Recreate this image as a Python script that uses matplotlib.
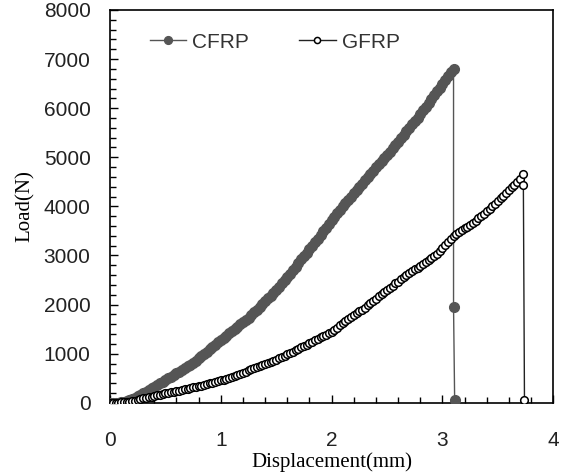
import matplotlib
matplotlib.use("Agg")
import matplotlib.pyplot as plt
from matplotlib.ticker import MultipleLocator

# CFRP load-displacement
cfrp_x = [0.000, 0.025, 0.050, 0.075, 0.100, 0.125, 0.150, 0.175, 0.200, 0.225,
          0.250, 0.275, 0.300, 0.325, 0.350, 0.375, 0.400, 0.425, 0.450, 0.475,
          0.500, 0.525, 0.550, 0.575, 0.600, 0.625, 0.650, 0.675, 0.700, 0.725,
          0.750, 0.775, 0.800, 0.825, 0.850, 0.875, 0.900, 0.925, 0.950, 0.975,
          1.000, 1.025, 1.050, 1.075, 1.100, 1.125, 1.150, 1.175, 1.200, 1.225,
          1.250, 1.275, 1.300, 1.325, 1.350, 1.375, 1.400, 1.425, 1.450, 1.475,
          1.500, 1.525, 1.550, 1.575, 1.600, 1.625, 1.650, 1.675, 1.700, 1.725,
          1.750, 1.775, 1.800, 1.825, 1.850, 1.875, 1.900, 1.925, 1.950, 1.975,
          2.000, 2.025, 2.050, 2.075, 2.100, 2.125, 2.150, 2.175, 2.200, 2.225,
          2.250, 2.275, 2.300, 2.325, 2.350, 2.375, 2.400, 2.425, 2.450, 2.475,
          2.500, 2.525, 2.550, 2.575, 2.600, 2.625, 2.650, 2.675, 2.700, 2.725,
          2.750, 2.775, 2.800, 2.825, 2.850, 2.875, 2.900, 2.925, 2.950, 2.975,
          3.000, 3.025, 3.050, 3.075, 3.100, 3.100, 3.110]
cfrp_y = [0, 0, 0, 5, 10, 20, 30, 50, 70, 100,
          130, 165, 200, 230, 265, 300, 330, 360, 395, 430,
          460, 495, 530, 565, 600, 635, 670, 705, 740, 775,
          815, 860, 905, 950, 995, 1040, 1090, 1140, 1185, 1235,
          1280, 1325, 1370, 1415, 1460, 1505, 1550, 1595, 1640, 1685,
          1730, 1785, 1840, 1900, 1955, 2010, 2070, 2125, 2185, 2240,
          2300, 2365, 2430, 2495, 2560, 2630, 2700, 2775, 2850, 2920,
          2990, 3060, 3130, 3200, 3270, 3345, 3420, 3495, 3570, 3645,
          3720, 3790, 3860, 3930, 4000, 4070, 4135, 4200, 4270, 4335,
          4400, 4465, 4530, 4600, 4665, 4730, 4800, 4860, 4925, 4990,
          5050, 5115, 5185, 5250, 5320, 5390, 5460, 5530, 5600, 5670,
          5740, 5810, 5880, 5955, 6030, 6105, 6180, 6260, 6340, 6420,
          6500, 6580, 6660, 6730, 6790, 1950, 60]

# GFRP load-displacement
gfrp_x = [0.000, 0.025, 0.050, 0.075, 0.100, 0.125, 0.150, 0.175, 0.200, 0.225,
          0.250, 0.275, 0.300, 0.325, 0.350, 0.375, 0.400, 0.425, 0.450, 0.475,
          0.500, 0.525, 0.550, 0.575, 0.600, 0.625, 0.650, 0.675, 0.700, 0.725,
          0.750, 0.775, 0.800, 0.825, 0.850, 0.875, 0.900, 0.925, 0.950, 0.975,
          1.000, 1.025, 1.050, 1.075, 1.100, 1.125, 1.150, 1.175, 1.200, 1.225,
          1.250, 1.275, 1.300, 1.325, 1.350, 1.375, 1.400, 1.425, 1.450, 1.475,
          1.500, 1.525, 1.550, 1.575, 1.600, 1.625, 1.650, 1.675, 1.700, 1.725,
          1.750, 1.775, 1.800, 1.825, 1.850, 1.875, 1.900, 1.925, 1.950, 1.975,
          2.000, 2.025, 2.050, 2.075, 2.100, 2.125, 2.150, 2.175, 2.200, 2.225,
          2.250, 2.275, 2.300, 2.325, 2.350, 2.375, 2.400, 2.425, 2.450, 2.475,
          2.500, 2.525, 2.550, 2.575, 2.600, 2.625, 2.650, 2.675, 2.700, 2.725,
          2.750, 2.775, 2.800, 2.825, 2.850, 2.875, 2.900, 2.925, 2.950, 2.975,
          3.000, 3.025, 3.050, 3.075, 3.100, 3.125, 3.150, 3.175, 3.200, 3.225,
          3.250, 3.275, 3.300, 3.325, 3.350, 3.375, 3.400, 3.425, 3.450, 3.475,
          3.500, 3.525, 3.550, 3.575, 3.600, 3.625, 3.650, 3.675, 3.700, 3.725,
          3.730, 3.740]
gfrp_y = [0, 0, 5, 5, 10, 15, 20, 25, 35, 45,
          55, 70, 90, 100, 115, 125, 140, 150, 165, 175,
          190, 200, 215, 225, 240, 250, 265, 275, 290, 300,
          315, 325, 340, 350, 365, 380, 395, 410, 425, 440,
          455, 470, 490, 510, 530, 550, 570, 590, 615, 635,
          660, 680, 700, 720, 740, 760, 785, 805, 830, 855,
          880, 905, 930, 955, 985, 1010, 1040, 1070, 1100, 1130,
          1160, 1185, 1215, 1240, 1270, 1300, 1330, 1360, 1390, 1420,
          1450, 1490, 1530, 1575, 1620, 1660, 1700, 1740, 1780, 1820,
          1860, 1900, 1940, 1985, 2030, 2075, 2120, 2165, 2210, 2255,
          2300, 2340, 2385, 2430, 2470, 2515, 2560, 2605, 2650, 2685,
          2720, 2755, 2790, 2825, 2860, 2900, 2940, 2990, 3040, 3095,
          3150, 3210, 3270, 3330, 3390, 3430, 3470, 3510, 3550, 3590,
          3630, 3670, 3710, 3755, 3800, 3850, 3900, 3950, 4000, 4055,
          4110, 4165, 4220, 4275, 4330, 4385, 4440, 4500, 4560, 4660,
          4440, 60]

fig = plt.figure(figsize=(5.64, 4.75), dpi=100)
ax = fig.add_axes([0.195, 0.152, 0.786, 0.827])

ax.plot(cfrp_x, cfrp_y, '-o', color='#555555', lw=1, ms=7,
        mfc='#555555', mec='#555555', label='CFRP', zorder=3)
ax.plot(gfrp_x, gfrp_y, '-o', color='#222222', lw=1, ms=5.5,
        mfc='white', mec='black', mew=1.1, label='GFRP', zorder=4)

ax.set_xlim(0, 4)
ax.set_ylim(0, 8000)
ax.xaxis.set_major_locator(MultipleLocator(1))
ax.xaxis.set_minor_locator(MultipleLocator(0.2))
ax.yaxis.set_major_locator(MultipleLocator(1000))
ax.yaxis.set_minor_locator(MultipleLocator(200))
ax.tick_params(which='both', direction='in', top=False, right=False)
ax.tick_params(which='major', length=6, width=1)
ax.tick_params(which='minor', length=4, width=1)
ax.tick_params(axis='x', which='major', pad=20)
ax.tick_params(axis='y', which='major', pad=14)
for lab in ax.get_xticklabels() + ax.get_yticklabels():
    lab.set_fontfamily('Liberation Sans')
    lab.set_fontsize(15)
    lab.set_color('#222222')
for s in ax.spines.values():
    s.set_linewidth(1.2)

ax.set_xlabel('Displacement(mm)', family='Liberation Serif', fontsize=15, labelpad=2)
ax.set_ylabel('Load(N)', family='Liberation Serif', fontsize=15, labelpad=6)

leg = ax.legend(loc='upper left', ncol=2, frameon=False, handlelength=1.75,
                columnspacing=2.4, handletextpad=0.3, markerscale=0.8,
                bbox_to_anchor=(0.047, 0.99),
                prop={'family': 'Liberation Sans', 'size': 15})
for t in leg.get_texts():
    t.set_color('#333333')

fig.savefig('out.png', dpi=100)
